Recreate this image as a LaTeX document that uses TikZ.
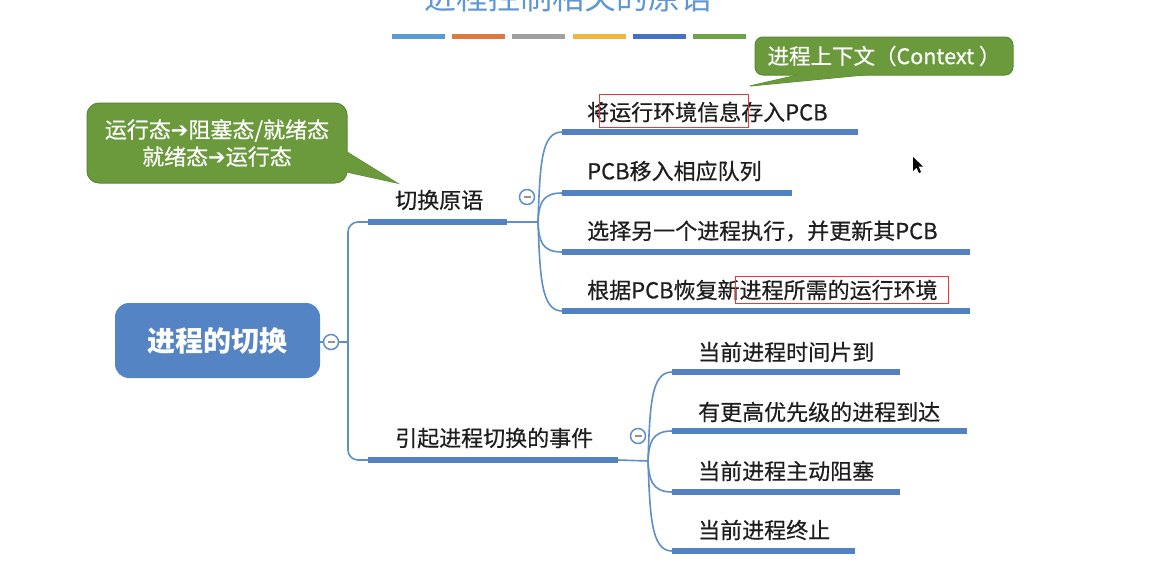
\documentclass[tikz,border=0pt]{standalone}
\usepackage{fontspec}
\setmainfont{Noto Sans CJK SC}
\newfontfamily\medfont[FakeBold=0.5]{Noto Sans CJK SC}
\newfontfamily\symfont{DejaVu Sans}
\definecolor{linecol}{HTML}{5E8FCB}
\definecolor{barcol}{HTML}{5382C3}
\definecolor{rootfill}{HTML}{5584C4}
\definecolor{callgreen}{HTML}{6B9A3D}
\definecolor{callborder}{HTML}{5A8733}
\definecolor{markred}{HTML}{E5393B}
\definecolor{titleblue}{HTML}{5F97D6}
\definecolor{txt}{HTML}{1E1E1E}
\definecolor{cA}{HTML}{5B9BD5}
\definecolor{cB}{HTML}{DD7A3E}
\definecolor{cC}{HTML}{A0A0A0}
\definecolor{cD}{HTML}{F2B53F}
\definecolor{cE}{HTML}{4472C4}
\definecolor{cF}{HTML}{70A347}
\newcommand{\arr}{{\symfont\bfseries\fontsize{21}{21}\selectfont ➔}}
\tikzset{
  conn/.style={draw=linecol, line width=1.6pt},
  thickbar/.style={draw=barcol, line width=5.5pt},
  lbl/.style={anchor=west, inner sep=0pt, text=txt, font=\medfont\fontsize{22}{22}\selectfont},
  toggle/.style={circle, draw=linecol, fill=white, line width=1.5pt, minimum size=15pt, inner sep=0pt,
    path picture={\draw[draw=gray!85, line width=1.4pt] ([xshift=-3.5pt]path picture bounding box.center) -- ([xshift=3.5pt]path picture bounding box.center);}},
  redmark/.style={draw=markred, line width=0.9pt},
  callout/.style={fill=callgreen, draw=callborder, line width=1pt, rounded corners=12pt, text=white, align=center, inner sep=0pt},
  colourbar/.style={inner sep=0pt, minimum width=53pt, minimum height=5pt},
}
\begin{document}
\begin{tikzpicture}[x=1pt,y=-1pt]
\useasboundingbox (0,0) rectangle (1152,579);
\clip (0,0) rectangle (1152,579);
\fill[white] (0,0) rectangle (1152,579);

% title (cut off at the top, as in the reference)
\node[anchor=base, inner sep=0pt, text=titleblue, font=\fontsize{32}{32}\selectfont] (title) at (568,9) {进程控制相关的原语};
\node[colourbar, fill=cA] (bar1) at (418.5,36.5) {};
\node[colourbar, fill=cB] (bar2) at (478.5,36.5) {};
\node[colourbar, fill=cC] (bar3) at (538.5,36.5) {};
\node[colourbar, fill=cD] (bar4) at (599,36.5) {};
\node[colourbar, fill=cE] (bar5) at (659,36.5) {};
\node[colourbar, fill=cF] (bar6) at (719,36.5) {};

% root
\node[fill=rootfill, rounded corners=14pt, minimum width=205pt, minimum height=75pt, inner sep=0pt,
  text=white, font=\bfseries\fontsize{28}{28}\selectfont] (root) at (217.5,340.5) {进程的切换};
\node[toggle] (c0) at (331,342) {};
\coordinate (v0) at (348,342);
\draw[conn] (root.east |- c0) -- (c0.west);
\draw[conn] (c0.east) -- (v0);

% level 1
\coordinate (b1s) at (368,222);
\coordinate (b1e) at (507,222);
\coordinate (b2s) at (368,460);
\coordinate (b2e) at (618,460);
\draw[conn, rounded corners=10pt] (v0) |- (b1s);
\draw[conn, rounded corners=10pt] (v0) |- (b2s);
\draw[thickbar] (b1s) -- (b1e);
\draw[thickbar] (b2s) -- (b2e);
\node[lbl] (l1) at (395,200) {切换原语};
\node[lbl] (l2) at (395,438) {引起进程切换的事件};

% group 1
\coordinate (j1) at (538,222);
\draw[conn] (b1e) -- (j1);
\node[toggle] (c1) at (527,197) {};
\coordinate (s1) at (562,132);
\coordinate (e1) at (858,132);
\coordinate (s2) at (562,193);
\coordinate (e2) at (792,193);
\coordinate (s3) at (562,252);
\coordinate (e3) at (970,252);
\coordinate (s4) at (562,311);
\coordinate (e4) at (970,311);
\draw[conn] (j1) .. controls (540,165) and (541,132) .. (s1);
\draw[conn] (j1) .. controls (539,205) and (541,193) .. (s2);
\draw[conn] (j1) .. controls (539,240) and (541,252) .. (s3);
\draw[conn] (j1) .. controls (540,275) and (541,311) .. (s4);
\draw[thickbar] (s1) -- (e1);
\draw[thickbar] (s2) -- (e2);
\draw[thickbar] (s3) -- (e3);
\draw[thickbar] (s4) -- (e4);
\node[lbl] (t1) at (587,112) {将运行环境信息存入PCB};
\node[lbl] (t2) at (587,171) {PCB移入相应队列};
\node[lbl] (t3) at (587,231) {选择另一个进程执行，并更新其PCB};
\node[lbl] (t4) at (587,290) {根据PCB恢复新进程所需的运行环境};
\node[redmark, inner sep=0pt, minimum width=149pt, minimum height=33pt] (r1) at (673.5,110.5) {};
\node[redmark, inner sep=0pt, minimum width=213pt, minimum height=27pt] (r2) at (841.5,289.5) {};

% group 2
\coordinate (j2) at (648,461);
\draw[conn] (b2e) -- (j2);
\node[toggle] (c2) at (638,436) {};
\coordinate (u1) at (672,372);
\coordinate (f1) at (900,372);
\coordinate (u2) at (672,431);
\coordinate (f2) at (967,431);
\coordinate (u3) at (672,492);
\coordinate (f3) at (900,492);
\coordinate (u4) at (672,551);
\coordinate (f4) at (855,551);
\draw[conn] (j2) .. controls (650,405) and (651,372) .. (u1);
\draw[conn] (j2) .. controls (649,444) and (651,431) .. (u2);
\draw[conn] (j2) .. controls (649,478) and (651,492) .. (u3);
\draw[conn] (j2) .. controls (650,515) and (651,551) .. (u4);
\draw[thickbar] (u1) -- (f1);
\draw[thickbar] (u2) -- (f2);
\draw[thickbar] (u3) -- (f3);
\draw[thickbar] (u4) -- (f4);
\node[lbl] (w1) at (698,352) {当前进程时间片到};
\node[lbl] (w2) at (698,412) {有更高优先级的进程到达};
\node[lbl] (w3) at (698,471) {当前进程主动阻塞};
\node[lbl] (w4) at (698,530) {当前进程终止};

% left callout
\coordinate (lt) at (397,183);
\path[fill=callgreen, draw=callborder, line width=1pt] (340,147.7) -- (lt) -- (340,170.5) -- cycle;
\node[callout, minimum width=260pt, minimum height=80pt, font=\medfont\fontsize{22}{27}\selectfont] (cl) at (217,143)
  {运行态\arr 阻塞态/就绪态\\就绪态\arr 运行态};
\fill[callgreen] (340,147.7) -- (lt) -- (340,170.5) -- cycle;

% top-right callout
\coordinate (rt) at (750,86);
\path[fill=callgreen, draw=callborder, line width=1pt] (811,72) -- (rt) -- (894,72) -- cycle;
\node[callout, rounded corners=8pt, minimum width=258pt, minimum height=38pt, font=\medfont\fontsize{21.5}{21.5}\selectfont] (cr) at (884,56)
  {进程上下文（Context ）};
\fill[callgreen] (811,72) -- (rt) -- (894,72) -- cycle;

% mouse cursor
\fill[black] (913,157) -- (913,171) -- (916.5,167.5) -- (919,173) -- (921,172) -- (918.5,166.5) -- (923,166.5) -- cycle;
\end{tikzpicture}
\end{document}
